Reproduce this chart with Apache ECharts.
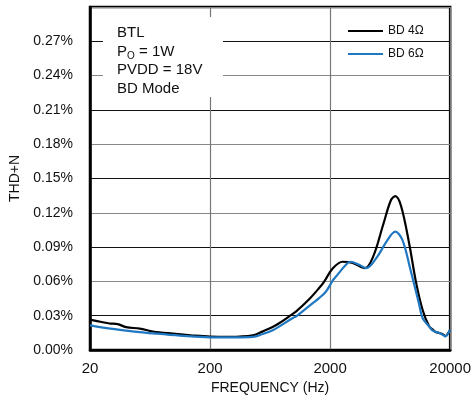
<!DOCTYPE html>
<html>
<head>
<meta charset="utf-8">
<script src="https://cdn.jsdelivr.net/npm/echarts@6/dist/echarts.min.js"></script>
<style>
  html, body { margin: 0; padding: 0; background: #fff; }
  #chart { width: 474px; height: 403px; }
</style>
</head>
<body>
<div id="chart"></div>
<script>
// THD+N vs frequency, BTL, Po = 1W, PVDD = 18V, BD mode
const freq4 = [20, 25, 29, 34, 40, 52, 67, 98, 144, 200, 290, 454, 551, 664, 758, 912, 1044, 1344, 1620, 1786, 2100, 2540, 3080, 3900, 4550, 5550, 6420, 6980, 7800, 9120, 10360, 11780, 13360, 14320, 15150, 16250, 17500, 18140, 20000];
const thd4  = [0.0265, 0.0245, 0.0232, 0.0226, 0.0200, 0.0187, 0.0162, 0.0143, 0.0127, 0.0117, 0.0115, 0.0128, 0.0163, 0.0201, 0.0236, 0.0294, 0.0338, 0.0446, 0.0542, 0.0599, 0.0712, 0.0772, 0.0762, 0.0716, 0.0812, 0.1100, 0.1310, 0.1345, 0.1260, 0.0930, 0.0600, 0.0352, 0.0207, 0.0178, 0.0158, 0.0149, 0.0135, 0.0122, 0.0178];

const freq6 = [20, 31, 45, 71, 112, 200, 330, 454, 550, 664, 978, 1044, 1434, 1620, 1850, 2120, 2240, 2710, 2950, 3500, 4000, 4900, 5900, 6980, 8000, 9300, 10980, 11780, 13360, 14320, 16250, 17800, 18140, 20000];
const thd6  = [0.0216, 0.0184, 0.0163, 0.0143, 0.0126, 0.0111, 0.0111, 0.0115, 0.0140, 0.0172, 0.0280, 0.0294, 0.0410, 0.0454, 0.0512, 0.0614, 0.0643, 0.0745, 0.0772, 0.0745, 0.0716, 0.0810, 0.0948, 0.1035, 0.0963, 0.0710, 0.0410, 0.0280, 0.0207, 0.0169, 0.0149, 0.0126, 0.0120, 0.0178];

const seriesNames = ['BD 4Ω', 'BD 6Ω'];
const freqTicks = [20, 200, 2000, 20000];
const F0 = 20; // lowest frequency on the axis

// x axis runs in decades above 20 Hz
const dec = f => Math.log10(f / F0);
const toPairs = (fs, vs) => fs.map((f, i) => [dec(f), vs[i]]);

const FONT = '"Liberation Sans", Arial, sans-serif';
const chart = echarts.init(document.getElementById('chart'), null, { renderer: 'canvas' });

chart.setOption({
  animation: false,
  backgroundColor: '#fff',
  textStyle: { fontFamily: FONT, color: '#111' },
  grid: {
    left: 90, right: 23, top: 7, bottom: 53,
    show: true, borderColor: '#000', borderWidth: 2.5, backgroundColor: 'transparent'
  },
  xAxis: {
    type: 'value', min: 0, max: 3, interval: 1,
    name: 'FREQUENCY (Hz)', nameLocation: 'middle', nameGap: 31,
    nameTextStyle: { fontSize: 14, color: '#111', fontFamily: FONT },
    axisLine: { show: true, lineStyle: { color: '#000', width: 2.5 } },
    axisTick: { show: false },
    axisLabel: {
      margin: 11, fontSize: 15, color: '#111', fontFamily: FONT,
      formatter: v => String(freqTicks[Math.round(v)] ?? '')
    },
    splitLine: { show: true, lineStyle: { color: '#777', width: 1.2 } }
  },
  yAxis: {
    type: 'value', min: 0, max: 0.30, interval: 0.03,
    name: 'THD+N', nameLocation: 'middle', nameGap: 62,
    nameTextStyle: { fontSize: 14, color: '#111', fontFamily: FONT },
    axisLine: { show: true, lineStyle: { color: '#000', width: 2.5 } },
    axisTick: { show: false },
    axisLabel: {
      margin: 17, fontSize: 14, color: '#111', fontFamily: FONT,
      formatter: v => (v > 0.295 ? '' : v.toFixed(2) + '%')
    },
    splitLine: { show: true, lineStyle: { color: ['#888', '#111'], width: 1.2 } }
  },
  legend: {
    orient: 'vertical', left: 343, top: 20,
    icon: 'rect', itemWidth: 35, itemHeight: 2, itemGap: 11,
    textStyle: { fontSize: 12, color: '#111', fontFamily: FONT },
    data: seriesNames
  },
  graphic: [
    { type: 'rect', shape: { x: 103, y: 17, width: 120, height: 80 }, style: { fill: '#fff' }, z: 10, silent: true },
    {
      type: 'text', left: 117, top: 24, z: 11,
      style: {
        text: 'BTL\nP{sub|O} = 1W\nPVDD = 18V\nBD Mode',
        font: '15px ' + FONT, fill: '#111', lineHeight: 18.5,
        rich: {
          sub: { fontSize: 10, verticalAlign: 'bottom', padding: [6, 0, 0, 0], fontFamily: FONT, fill: '#111' }
        }
      }
    }
  ],
  series: [
    {
      name: seriesNames[0], type: 'line', data: toPairs(freq4, thd4),
      smooth: 0.35, symbol: 'none', z: 3,
      lineStyle: { color: '#000', width: 2.2 }, itemStyle: { color: '#000' }
    },
    {
      name: seriesNames[1], type: 'line', data: toPairs(freq6, thd6),
      smooth: 0.35, symbol: 'none', z: 4,
      lineStyle: { color: '#1f78c1', width: 2.2 }, itemStyle: { color: '#1f78c1' }
    }
  ]
});
</script>
</body>
</html>
